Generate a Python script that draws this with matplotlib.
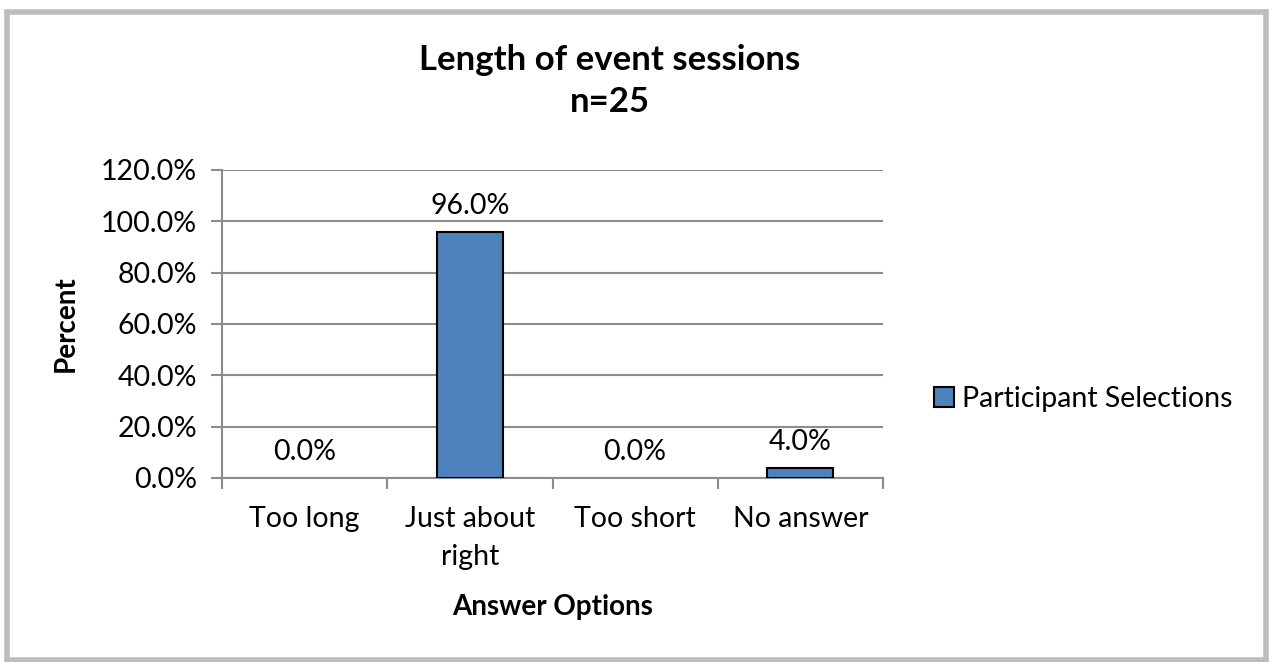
import matplotlib.pyplot as plt
from matplotlib.patches import Rectangle, Patch
import numpy as np

plt.rcParams['font.family'] = ['Lato', 'DejaVu Sans']

categories = ["Too long", "Just about\nright", "Too short", "No answer"]
percent = [0.0, 96.0, 0.0, 4.0]
yticks = [0, 20, 40, 60, 80, 100, 120]
series_name = "Participant Selections"

bar_color = "#4F81BD"
grid_color = "#8c8c8c"

fig = plt.figure(figsize=(12.71, 6.62), dpi=100)

# window frame around the chart
frame = Rectangle((7 / 1271, 2 / 662), 1259 / 1271, 648 / 662, transform=fig.transFigure,
                  fill=False, edgecolor="#bdbdbd", linewidth=4)
fig.patches.append(frame)

ax = fig.add_axes([222 / 1271, 184 / 662, 661 / 1271, 308 / 662])
x = np.arange(len(categories))
# empty categories get no outline, only their value label
edges = ["black" if v > 0 else "none" for v in percent]
ax.bar(x, percent, width=0.4, color=bar_color, edgecolor=edges, linewidth=1.5, zorder=3)

for xi, v in zip(x, percent):
    ax.text(xi, v + 5, f"{v:.1f}%", ha="center", va="bottom", fontsize=20.5)

ax.set_xlim(-0.5, len(categories) - 0.5)
ax.set_ylim(0, 120)
ax.set_yticks(yticks)
ax.set_yticklabels([f"{t:.1f}%" for t in yticks], fontsize=20.5)
ax.yaxis.grid(True, color=grid_color, linewidth=1.5, zorder=0)
ax.set_axisbelow(True)

# category ticks sit on the boundaries between groups
ax.set_xticks(np.arange(-0.5, len(categories)), minor=False)
ax.set_xticklabels([])
ax.set_xticks(x, minor=True)
ax.set_xticklabels(categories, minor=True, fontsize=20.5, linespacing=1.6)
ax.tick_params(axis="x", which="major", length=8, color=grid_color, width=1.5)
ax.tick_params(axis="x", which="minor", length=0, pad=20)
ax.tick_params(axis="y", length=8, color=grid_color, width=1.5, pad=10)

for side in ["top", "right"]:
    ax.spines[side].set_visible(False)
for side in ["left", "bottom"]:
    ax.spines[side].set_color(grid_color)
    ax.spines[side].set_linewidth(1.5)

ax.set_ylabel("Percent", fontsize=20, fontweight="bold", labelpad=16)
ax.set_xlabel("Answer Options", fontsize=20, fontweight="bold", labelpad=17)

fig.text(610 / 1271, 1 - 81 / 662, "Length of event sessions\nn=25", ha="center", va="center",
         fontsize=25, fontweight="bold", linespacing=1.4)

handle = Patch(facecolor=bar_color, edgecolor="black", linewidth=1.5)
fig.legend(handles=[handle], labels=[series_name], loc="center left",
           bbox_to_anchor=(908 / 1271, 1 - 399 / 662), frameon=False, fontsize=20.5,
           handlelength=0.7, handleheight=0.7, handletextpad=0.3)

fig.savefig("out.png", dpi=100)
